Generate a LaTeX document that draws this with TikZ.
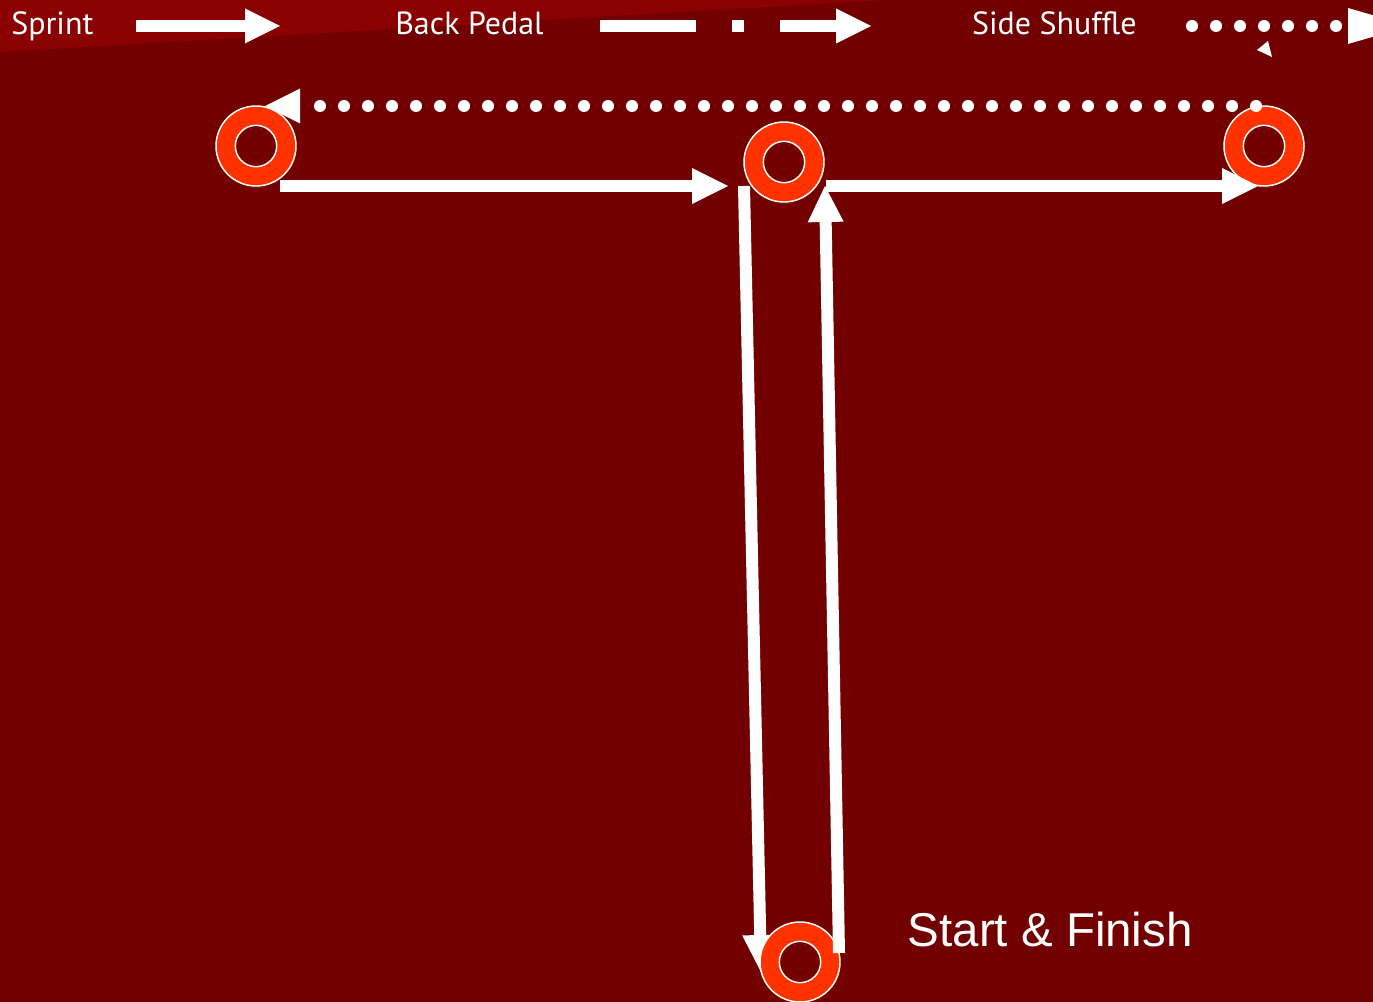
\documentclass[tikz,border=0pt]{standalone}
\usepackage{fontspec}
\setmainfont{Liberation Sans}
\newfontfamily\legfont{PT Sans}
\usetikzlibrary{arrows.meta,calc}
\definecolor{bgred}{RGB}{114,0,0}
\definecolor{bannerred}{RGB}{139,0,0}
\definecolor{coneorange}{RGB}{255,51,0}
\tikzset{
  cone/.style={circle,minimum size=60pt,inner sep=0pt,fill=coneorange,draw=white,line width=1.1pt},
  coneinner/.style={draw=white,line width=1.1pt,fill=bgred},
  runarrow/.style={draw=white,line width=9pt,-{Triangle[length=27pt,width=27pt,line width=0pt]}},
  dotline/.style={draw=white,line width=9pt,line cap=round,dash pattern=on 0pt off 18pt},
  legtext/.style={text=white,inner sep=0pt,anchor=base west,font=\legfont\fontsize{24pt}{28pt}\selectfont},
  bigtext/.style={text=white,inner sep=0pt,anchor=base west,font=\fontsize{35.6pt}{42pt}\selectfont},
}
\begin{document}
\begin{tikzpicture}[x=0.75pt,y=-0.75pt]
\fill[bgred] (0,0) rectangle (1373,1002);
\useasboundingbox (0,0) rectangle (1373,1002);
\fill[bannerred] (0,0) -- (885,0) -- (0,52) -- cycle;

% legend
\node[legtext] (tsprint) at (11,34.5) {Sprint};
\coordinate (ls1) at (136,26);
\coordinate (ls2) at (280,26);
\draw[runarrow,-{Triangle[length=26.25pt,width=26.25pt,line width=0pt]}] (ls1) -- (ls2);

\node[legtext] (tback) at (395,34.5) {Back Pedal};
\fill[white] (600,20) rectangle (696,32);
\fill[white] (732,20) rectangle (744,32);
\coordinate (lb1) at (780,26);
\coordinate (lb2) at (871,26);
\draw[runarrow,-{Triangle[length=26.25pt,width=26.25pt,line width=0pt]}] (lb1) -- (lb2);

\node[legtext] (tside) at (971.8,34.5) {Side Shuffle};
\coordinate (ld1) at (1192,26);
\coordinate (ld2) at (1340,26);
\draw[dotline] (ld1) -- (ld2);
\fill[white] (1348,8) -- (1410,26) -- (1348,44) -- cycle;
\fill[white] (1257,50) -- (1268,41) -- (1272,57) -- cycle;

% cone positions
\coordinate (p1) at (256,146);
\coordinate (p2) at (784,162);
\coordinate (p3) at (1264,146);
\coordinate (p4) at (800,962);

% back pedal down (under the start cone)
\draw[runarrow,-{Triangle[length=27.75pt,width=27pt,line width=0pt]}] ($(p2)+(-40,24)$) -- ($(p4)+(-39,10)$);

% cones
\node[cone] (c1) at (p1) {};
\draw[coneinner] (c1.center) circle[radius=15.5pt];
\node[cone] (c2) at (p2) {};
\draw[coneinner] (c2.center) circle[radius=15.5pt];
\node[cone] (c3) at (p3) {};
\draw[coneinner] (c3.center) circle[radius=15.5pt];
\node[cone] (c4) at (p4) {};
\draw[coneinner] (c4.center) circle[radius=15.5pt];

% sprints
\draw[runarrow] ($(c1.center)+(24,40)$) -- ($(c2.center)+(-56,24)$);
\draw[runarrow] ($(c2.center)+(42,24)$) -- ($(c3.center)+(-6,40)$);
\draw[runarrow] ($(c4.center)+(39,-9)$) -- ($(c2.center)+(41,24)$);

% side shuffle
\draw[dotline] ($(c3.center)+(-8,-40)$) -- ($(c1.center)+(44,-40)$);
\draw[runarrow,-{Triangle[length=26.25pt,width=26.25pt,line width=0pt]}] ($(c1.center)+(44,-40)$) -- ($(c1.center)+(9,-40)$);

\node[bigtext] (tstart) at (907.5,946) {Start \& Finish};
\end{tikzpicture}
\end{document}
